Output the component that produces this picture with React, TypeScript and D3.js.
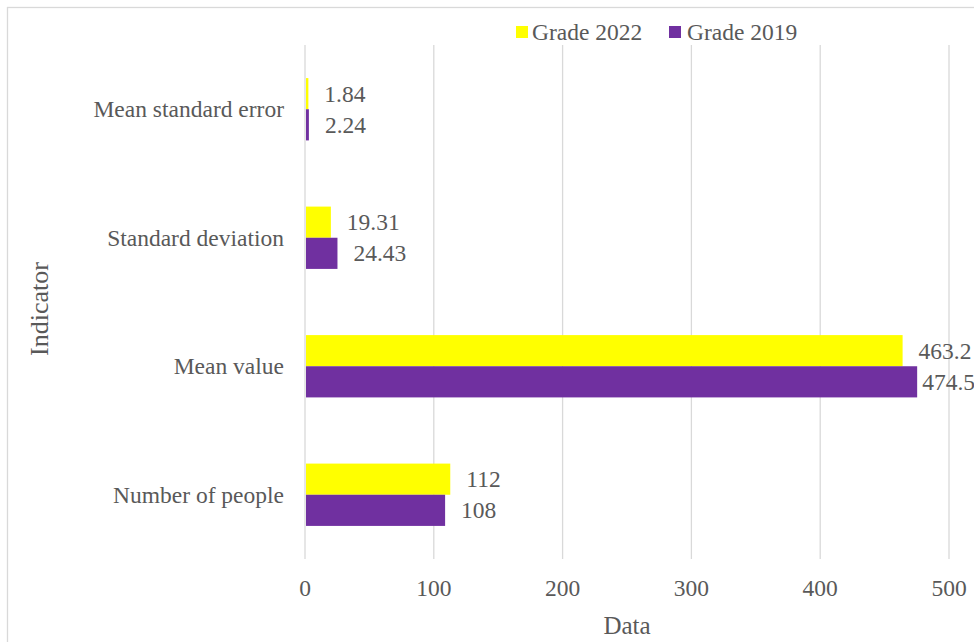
import React from "react";
import * as d3 from "d3";

const categories = ["Number of people", "Mean value", "Standard deviation", "Mean standard error"];
const grade2022 = [112, 463.2, 19.31, 1.84];
const grade2019 = [108, 474.5, 24.43, 2.24];
const valueLabels2022 = ["112", "463.2", "19.31", "1.84"];
const valueLabels2019 = ["108", "474.5", "24.43", "2.24"];
const xTicks = [0, 100, 200, 300, 400, 500];
const seriesNames = ["Grade 2022", "Grade 2019"];

const W = 974;
const H = 642;
const FONT = "'Liberation Serif', 'Times New Roman', serif";
const FS = 23.5;
const TEXT = "#595959";
const GRID = "#d9d9d9";
const YELLOW = "#ffff00";
const PURPLE = "#7030a0";

// approximate rendered width of a numeric label (digits 0.5em, dot 0.25em)
const numWidth = (s: string) =>
  s.split("").reduce((acc, ch) => acc + (ch === "." ? 0.25 : 0.5), 0) * FS;

export default function App() {
  const plot = { left: 305, right: 949, top: 45, bottom: 559 };
  const x = d3.scaleLinear().domain([0, 500]).range([plot.left, plot.right]);
  // categories listed bottom-to-top
  const y = d3
    .scaleBand<string>()
    .domain([...categories].reverse())
    .range([plot.top, plot.bottom])
    .paddingInner(0.515)
    .paddingOuter(0.2575);
  const bw = y.bandwidth() / 2;

  const labelX = (v: number, text: string) => Math.min(x(v) + 17, W - numWidth(text) + 1);

  return (
    <div style={{ position: "fixed", left: 0, top: 0 }}>
      <svg width={W} height={H} style={{ display: "block", fontFamily: FONT }}>
        <rect x={0} y={0} width={W} height={H} fill="#fff" />
        <rect x={7.5} y={7.5} width={W + 10} height={H + 10} fill="none" stroke={GRID} strokeWidth={1.3} />

        {xTicks.map((t) => (
          <g key={t}>
            <line x1={x(t)} x2={x(t)} y1={plot.top} y2={plot.bottom} stroke={GRID} strokeWidth={1.3} />
            <text x={x(t)} y={588} textAnchor="middle" dominantBaseline="central" fontSize={FS} fill={TEXT}>
              {t}
            </text>
          </g>
        ))}

        {categories.map((c, i) => {
          const y0 = y(c)!;
          return (
            <g key={c}>
              <rect x={x(0) + 1} y={y0} width={x(grade2022[i]) - x(0)} height={bw} fill={YELLOW} />
              <rect x={x(0) + 1} y={y0 + bw} width={x(grade2019[i]) - x(0)} height={bw} fill={PURPLE} />
              <text x={labelX(grade2022[i], valueLabels2022[i])} y={y0 + bw / 2} dominantBaseline="central" fontSize={FS} fill={TEXT}>
                {valueLabels2022[i]}
              </text>
              <text x={labelX(grade2019[i], valueLabels2019[i])} y={y0 + bw * 1.5} dominantBaseline="central" fontSize={FS} fill={TEXT}>
                {valueLabels2019[i]}
              </text>
              <text x={284} y={y0 + bw} textAnchor="end" dominantBaseline="central" fontSize={FS} fill={TEXT}>
                {c}
              </text>
            </g>
          );
        })}

        <text x={627} y={625} textAnchor="middle" dominantBaseline="central" fontSize={25} fill={TEXT}>
          Data
        </text>
        <text
          transform={`translate(39, 309) rotate(-90)`}
          textAnchor="middle"
          dominantBaseline="central"
          fontSize={26}
          fill={TEXT}
        >
          Indicator
        </text>

        <g transform="translate(516, 32)">
          <rect x={0} y={-6} width={12} height={12} fill={YELLOW} />
          <text x={16} y={0} dominantBaseline="central" fontSize={FS} fill={TEXT}>
            {seriesNames[0]}
          </text>
          <rect x={153} y={-6} width={12} height={12} fill={PURPLE} />
          <text x={171} y={0} dominantBaseline="central" fontSize={FS} fill={TEXT}>
            {seriesNames[1]}
          </text>
        </g>
      </svg>
    </div>
  );
}
